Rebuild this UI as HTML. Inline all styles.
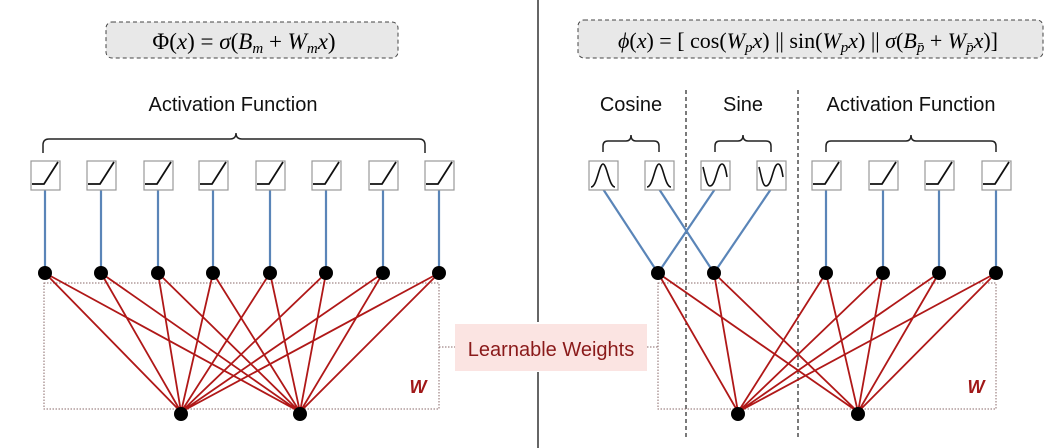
<!DOCTYPE html><html><head><style>body{margin:0;background:#fff}svg{display:block}text{font-family:"Liberation Sans",sans-serif}</style></head><body>
<svg width="1052" height="448" viewBox="0 0 1052 448">
<defs>
<g id="relu"><rect x="-14" y="-14" width="29" height="29" fill="#fff" stroke="#999" stroke-width="1.2"/><path d="M-13 9 L-1 9 L13 -13" fill="none" stroke="#111" stroke-width="1.8"/></g>
<g id="cos"><rect x="-14" y="-14" width="29" height="29" fill="#fff" stroke="#999" stroke-width="1.2"/><path d="M-12 12 C-6 12,-4 -11,0 -11 C4 -11,6 12,12 12" fill="none" stroke="#111" stroke-width="1.6"/></g>
<g id="sin"><rect x="-14" y="-14" width="29" height="29" fill="#fff" stroke="#999" stroke-width="1.2"/><path d="M-12 -8 C-9 4,-8 11,-5 11 C1 11,2 -11,7 -11 C10 -11,11 -4,12 2" fill="none" stroke="#111" stroke-width="1.6"/></g>
</defs>
<line x1="538" y1="0" x2="538" y2="322" stroke="#333" stroke-width="1.5"/>
<line x1="538" y1="372" x2="538" y2="448" stroke="#333" stroke-width="1.5"/>
<rect x="106" y="22" width="292" height="36" rx="6" fill="#e8e8e8" stroke="#444" stroke-dasharray="4 3"/>
<text x="244" y="49" text-anchor="middle" font-size="23" style="font-family:'Liberation Serif',serif">Φ(<tspan font-style="italic">x</tspan>) =  <tspan font-style="italic">σ</tspan>(<tspan font-style="italic">B<tspan font-size="15" dy="4">m</tspan></tspan><tspan dy="-4"> + </tspan><tspan font-style="italic">W<tspan font-size="15" dy="4">m</tspan><tspan dy="-4">x</tspan></tspan>)</text>
<rect x="578" y="20" width="465" height="38" rx="6" fill="#e8e8e8" stroke="#444" stroke-dasharray="4 3"/>
<text x="808" y="48" text-anchor="middle" font-size="22" style="font-family:'Liberation Serif',serif"><tspan font-style="italic">ϕ</tspan>(<tspan font-style="italic">x</tspan>) =  [ cos(<tspan font-style="italic">W</tspan><tspan font-size="15" dy="4" font-style="italic">p</tspan><tspan dy="-4" font-style="italic">x</tspan>) || sin(<tspan font-style="italic">W</tspan><tspan font-size="15" dy="4" font-style="italic">p</tspan><tspan dy="-4" font-style="italic">x</tspan>) || <tspan font-style="italic">σ</tspan>(<tspan font-style="italic">B</tspan><tspan font-size="15" dy="4" font-style="italic">p̄</tspan><tspan dy="-4"> + </tspan><tspan font-style="italic">W</tspan><tspan font-size="15" dy="4" font-style="italic">p̄</tspan><tspan dy="-4" font-style="italic">x</tspan>)]</text>
<g font-size="20" fill="#111" text-anchor="middle">
<text x="233" y="111">Activation Function</text>
<text x="631" y="111">Cosine</text><text x="743" y="111">Sine</text><text x="911" y="111">Activation Function</text></g>
<g fill="none" stroke="#222" stroke-width="1.5">
<path d="M43 153 v-8 q0 -6 6 -6 H230 q6 0 6 -6 q0 6 6 6 H419 q6 0 6 6 v8"/>
<path d="M603 152 v-6 q0 -5 5 -5 H626 q5 0 5 -6 q0 6 5 6 H654 q5 0 5 5 v6"/>
<path d="M715 152 v-6 q0 -5 5 -5 H738 q5 0 5 -6 q0 6 5 6 H766 q5 0 5 5 v6"/>
<path d="M826 152 v-6 q0 -5 5 -5 H906 q5 0 5 -6 q0 6 5 6 H991 q5 0 5 5 v6"/>
</g>
<g stroke="#222" stroke-dasharray="4 3" stroke-width="1.2"><line x1="686" y1="90" x2="686" y2="440"/><line x1="798" y1="90" x2="798" y2="440"/></g>
<g fill="none" stroke="#8a6a6a" stroke-dasharray="1.5 1.5"><rect x="44" y="283" width="395" height="126"/><rect x="658" y="283" width="338" height="126"/><line x1="439" y1="347" x2="455" y2="347"/><line x1="647" y1="347" x2="658" y2="347"/></g>
<g stroke="#5a85b8" stroke-width="2.2">
<line x1="45" y1="189" x2="45" y2="273"/><line x1="101" y1="189" x2="101" y2="273"/><line x1="158" y1="189" x2="158" y2="273"/><line x1="213" y1="189" x2="213" y2="273"/><line x1="270" y1="189" x2="270" y2="273"/><line x1="326" y1="189" x2="326" y2="273"/><line x1="383" y1="189" x2="383" y2="273"/><line x1="439" y1="189" x2="439" y2="273"/>
<line x1="603" y1="189" x2="658" y2="273"/><line x1="659" y1="189" x2="714" y2="273"/><line x1="715" y1="189" x2="658" y2="273"/><line x1="771" y1="189" x2="714" y2="273"/>
<line x1="826" y1="189" x2="826" y2="273"/><line x1="883" y1="189" x2="883" y2="273"/><line x1="939" y1="189" x2="939" y2="273"/><line x1="996" y1="189" x2="996" y2="273"/></g>
<g stroke="#b01818" stroke-width="1.8">
<path d="M45 273L181 412M101 273L181 412M158 273L181 412M213 273L181 412M270 273L181 412M326 273L181 412M383 273L181 412M439 273L181 412M45 273L300 412M101 273L300 412M158 273L300 412M213 273L300 412M270 273L300 412M326 273L300 412M383 273L300 412M439 273L300 412"/>
<path d="M658 273L738 412M714 273L738 412M826 273L738 412M883 273L738 412M939 273L738 412M996 273L738 412M658 273L858 412M714 273L858 412M826 273L858 412M883 273L858 412M939 273L858 412M996 273L858 412"/>
</g>
<g fill="#000"><circle cx="45" cy="273" r="7"/><circle cx="101" cy="273" r="7"/><circle cx="158" cy="273" r="7"/><circle cx="213" cy="273" r="7"/><circle cx="270" cy="273" r="7"/><circle cx="326" cy="273" r="7"/><circle cx="383" cy="273" r="7"/><circle cx="439" cy="273" r="7"/><circle cx="181" cy="414" r="7"/><circle cx="300" cy="414" r="7"/>
<circle cx="658" cy="273" r="7"/><circle cx="714" cy="273" r="7"/><circle cx="826" cy="273" r="7"/><circle cx="883" cy="273" r="7"/><circle cx="939" cy="273" r="7"/><circle cx="996" cy="273" r="7"/><circle cx="738" cy="414" r="7"/><circle cx="858" cy="414" r="7"/></g>
<use href="#relu" x="45" y="175"/><use href="#relu" x="101" y="175"/><use href="#relu" x="158" y="175"/><use href="#relu" x="213" y="175"/><use href="#relu" x="270" y="175"/><use href="#relu" x="326" y="175"/><use href="#relu" x="383" y="175"/><use href="#relu" x="439" y="175"/>
<use href="#cos" x="603" y="175"/><use href="#cos" x="659" y="175"/><use href="#sin" x="715" y="175"/><use href="#sin" x="771" y="175"/>
<use href="#relu" x="826" y="175"/><use href="#relu" x="883" y="175"/><use href="#relu" x="939" y="175"/><use href="#relu" x="996" y="175"/>
<rect x="455" y="324" width="192" height="47" fill="#fbe4e2"/>
<text x="551" y="356" text-anchor="middle" font-size="20" fill="#8a1a1a">Learnable Weights</text>
<g font-size="18" font-weight="bold" font-style="italic" fill="#a01818" style="font-family:'Liberation Serif',serif"><text x="418" y="393" text-anchor="middle">W</text><text x="976" y="393" text-anchor="middle">W</text></g>
</svg></body></html>
